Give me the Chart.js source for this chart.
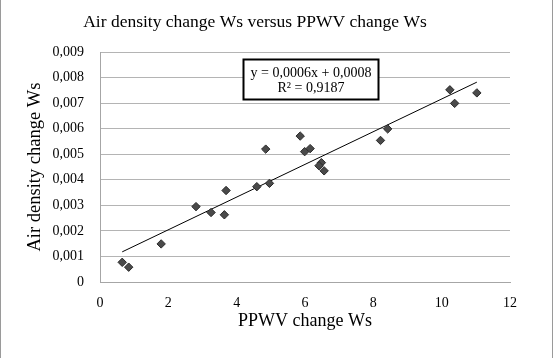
<!DOCTYPE html>
<html>
<head>
<meta charset="utf-8">
<script src="https://cdn.jsdelivr.net/npm/chart.js@4/dist/chart.umd.min.js"></script>
<style>
html,body{margin:0;padding:0;background:#fff;}
#wrap{width:553px;height:358px;position:relative;}
</style>
</head>
<body>
<div id="wrap"><canvas id="c" width="553" height="358"></canvas></div>
<script>
const titleText = "Air density change Ws versus PPWV change Ws";
const xTitle = "PPWV change Ws";
const yTitle = "Air density change Ws";
const equationLines = ["y = 0,0006x + 0,0008", "R\u00B2 = 0,9187"];

const ppwvChange = [0.65, 0.84, 1.79, 2.81, 3.25, 3.64, 3.69, 4.59, 4.85, 4.96,
                    5.86, 5.99, 6.15, 6.48, 6.41, 6.56, 8.21, 8.42, 10.24, 10.38, 11.03];
const airDensityChange = [0.00077, 0.00058, 0.00149, 0.00295, 0.00272, 0.00263, 0.00358, 0.00373, 0.0052, 0.00386,
                          0.00571, 0.0051, 0.00522, 0.00467, 0.00455, 0.00435, 0.00554, 0.00599, 0.00752, 0.00699, 0.0074];
const trendX = [0.65, 11.03];
const trendY = [0.00118, 0.00782];

const xTicks = [0, 2, 4, 6, 8, 10, 12];
const yTicks = [0, 0.001, 0.002, 0.003, 0.004, 0.005, 0.006, 0.007, 0.008, 0.009];

const serif = "'Liberation Serif', 'Times New Roman', serif";

const pts = ppwvChange.map((x, i) => ({x: x, y: airDensityChange[i]}));
const trend = trendX.map((x, i) => ({x: x, y: trendY[i]}));

function fmt(v){
  if (Math.abs(v) < 1e-12) return "0";
  return v.toFixed(3).replace(".", ",");
}

const decor = {
  id: 'decor',
  beforeDraw(chart){
    const ctx = chart.ctx;
    ctx.save();
    ctx.fillStyle = '#fff';
    ctx.fillRect(0, 0, chart.width, chart.height);
    ctx.strokeStyle = '#9a9a9a';
    ctx.lineWidth = 1;
    ctx.beginPath();
    ctx.moveTo(0.5, 0); ctx.lineTo(0.5, chart.height);
    ctx.moveTo(552.5, 0); ctx.lineTo(552.5, chart.height);
    ctx.stroke();
    ctx.restore();
  },
  afterDraw(chart){
    const ctx = chart.ctx;
    const a = chart.chartArea;
    const bx = a.left + 143.5, by = a.top + 7.5, bw = 135, bh = 40;
    ctx.save();
    ctx.fillStyle = '#fff';
    ctx.fillRect(bx, by, bw, bh);
    ctx.strokeStyle = '#000';
    ctx.lineWidth = 2;
    ctx.strokeRect(bx, by, bw, bh);
    ctx.fillStyle = '#000';
    ctx.font = "14px " + serif;
    ctx.textAlign = 'center';
    ctx.textBaseline = 'middle';
    ctx.fillText(equationLines[0], bx + bw/2, by + 13.5);
    ctx.fillText(equationLines[1], bx + bw/2, by + 28.5);
    ctx.restore();
  }
};

new Chart(document.getElementById('c'), {
  type: 'scatter',
  data: {
    datasets: [
      {
        label: 'data',
        data: pts,
        pointStyle: 'rectRot',
        pointRadius: 4.2,
        backgroundColor: '#4a4a4a',
        borderColor: '#2a2a2a',
        borderWidth: 1,
        order: 1
      },
      {
        label: 'trend',
        type: 'line',
        data: trend,
        showLine: true,
        borderColor: '#000',
        borderWidth: 1,
        pointRadius: 0,
        fill: false,
        order: 2
      }
    ]
  },
  options: {
    responsive: false,
    animation: false,
    devicePixelRatio: 1,
    layout: {padding: {left: 0, right: 43, top: 0, bottom: 0}},
    plugins: {
      legend: {display: false},
      tooltip: {enabled: false},
      title: {
        display: true,
        text: titleText,
        color: '#000',
        font: {family: serif, size: 17.5, weight: 'normal'},
        padding: {top: 12, bottom: 19}
      }
    },
    scales: {
      x: {
        type: 'linear',
        min: 0, max: 12,
        afterBuildTicks(s){ s.ticks = xTicks.map(v => ({value: v})); },
        afterFit(s){ s.height = 76; },
        grid: {display: false, drawTicks: false},
        border: {display: true, color: '#a6a6a6', width: 1},
        ticks: {color: '#000', font: {family: serif, size: 14}, padding: 13, maxRotation: 0},
        title: {display: true, text: xTitle, color: '#000', font: {family: serif, size: 18}, padding: {top: 0, bottom: 26}}
      },
      y: {
        type: 'linear',
        min: 0, max: 0.009,
        afterBuildTicks(s){ s.ticks = yTicks.map(v => ({value: v})); },
        afterFit(s){ s.width = 100; },
        grid: {color: '#b4b4b4', lineWidth: 1, drawTicks: false},
        border: {display: true, color: '#a6a6a6', width: 1},
        ticks: {color: '#000', font: {family: serif, size: 14}, padding: 16, callback: v => fmt(v)},
        title: {display: true, text: yTitle, color: '#000', font: {family: serif, size: 18.5}, padding: {top: 24, bottom: 0}}
      }
    }
  },
  plugins: [decor]
});
</script>
</body>
</html>
